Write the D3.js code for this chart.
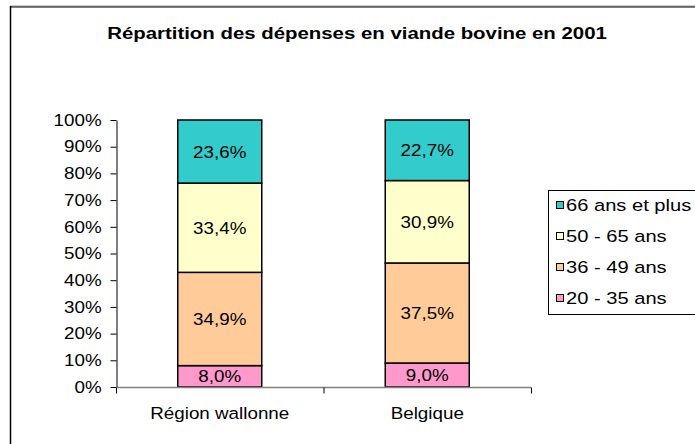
<!DOCTYPE html>
<html><head><meta charset="utf-8">
<script src="https://cdn.jsdelivr.net/npm/d3@7"></script>
<style>body{margin:0;background:#fff}svg{display:block;font-family:"Liberation Sans",Arial,sans-serif}</style>
</head><body>
<script>
const categories = ["Région wallonne", "Belgique"];
const seriesNames = ["20 - 35 ans", "36 - 49 ans", "50 - 65 ans", "66 ans et plus"];
const seriesColors = ["#FF99CC", "#FFCC99", "#FFFFCC", "#33CCCC"];
const v2035 = [8.0, 9.0];
const v3649 = [34.9, 37.5];
const v5065 = [33.4, 30.9];
const v66 = [23.6, 22.7];
const yTicks = [0,10,20,30,40,50,60,70,80,90,100];
const title = "Répartition des dépenses en viande bovine en 2001";

const W = 695, H = 444;
const FS = 16.5, SX = 1.14;
const svg = d3.select("body").append("svg").attr("width", W).attr("height", H);

function stext(g, x, y, str, anchor, size, sx, bold){
  const t = g.append("text").attr("transform",`translate(${x},${y}) scale(${sx||SX},1)`)
    .attr("text-anchor",anchor||"start").attr("font-size",size||FS).attr("fill","#000").text(str);
  if(bold) t.attr("font-weight","bold");
  return t;
}

// outer chart border
svg.append("line").attr("x1",10).attr("x2",W).attr("y1",6).attr("y2",6).attr("stroke","#999").attr("stroke-width",1);
svg.append("line").attr("x1",10).attr("x2",W).attr("y1",7).attr("y2",7).attr("stroke","#000").attr("stroke-width",1);
svg.append("line").attr("x1",10.5).attr("x2",10.5).attr("y1",6).attr("y2",H).attr("stroke","#000").attr("stroke-width",1.5);

stext(svg, 357, 39, title, "middle", 17, 1.2, true);

const plot = {l:116, r:531, t:120, b:387};
const x = d3.scaleBand().domain(categories).range([plot.l, plot.r]).paddingInner(0).paddingOuter(0);
const y = d3.scaleLinear().domain([0,100]).range([plot.b, plot.t]);

const rows = categories.map((c,i)=>{
  const vals = [v2035[i], v3649[i], v5065[i], v66[i]];
  const tot = d3.sum(vals);
  const o = {cat:c};
  seriesNames.forEach((s,j)=>{o[s]=vals[j]/tot*100; o["raw"+j]=vals[j];});
  return o;
});
const stacked = d3.stack().keys(seriesNames)(rows);

// y axis
const yAxis = d3.axisLeft(y).tickValues(yTicks).tickFormat(d=>d+"%").tickSize(6).tickSizeOuter(0);
const gy = svg.append("g").attr("transform",`translate(${plot.l+0.5},0)`).call(yAxis);
gy.select(".domain").attr("stroke","#000");
gy.selectAll(".tick line").attr("stroke","#000");
gy.selectAll(".tick text").attr("font-size",FS).attr("fill","#000").attr("x",-13)
  .attr("transform",`scale(${SX},1)`).attr("font-family","Liberation Sans, Arial, sans-serif");

// bars
const bw = 84;
stacked.forEach((layer,j)=>{
  svg.append("g").selectAll("rect").data(layer).join("rect")
    .attr("x", (d,i)=> x(categories[i]) + x.bandwidth()/2 - bw/2)
    .attr("y", d=> y(d[1]))
    .attr("width", bw)
    .attr("height", d=> y(d[0]) - y(d[1]))
    .attr("fill", seriesColors[j]).attr("stroke","#000").attr("stroke-width",1.5);
  const lg = svg.append("g");
  layer.forEach((d,i)=>{
    stext(lg, x(categories[i]) + x.bandwidth()/2, (y(d[0])+y(d[1]))/2 + 6,
      d.data["raw"+j].toFixed(1).replace(".",",")+"%", "middle");
  });
});

// x axis
const gx = svg.append("g").attr("transform",`translate(0,${plot.b+0.5})`);
gx.append("line").attr("x1",plot.l).attr("x2",plot.r).attr("stroke","#808080").attr("stroke-width",1.5);
const bounds = [plot.l, ...categories.map(c=>x(c)+x.bandwidth())];
gx.selectAll("line.t").data(bounds).join("line").attr("class","t")
  .attr("x1",d=>d+0.5).attr("x2",d=>d+0.5).attr("y1",0).attr("y2",6).attr("stroke","#000");
categories.forEach(c=> stext(gx, x(c)+x.bandwidth()/2, 31, c, "middle"));

// legend
const lg = svg.append("g");
lg.append("rect").attr("x",548.5).attr("y",190.5).attr("width",200).attr("height",124)
  .attr("fill","#fff").attr("stroke","#000").attr("stroke-width",1);
const legendOrder = [3,2,1,0];
legendOrder.forEach((j,k)=>{
  const cy = 205 + k*31;
  lg.append("rect").attr("x",556.5).attr("y",cy-3.5).attr("width",7).attr("height",7)
    .attr("fill",seriesColors[j]).attr("stroke","#000").attr("stroke-width",1);
  stext(lg, 566, cy+6, seriesNames[j], "start", FS, 1.22);
});
</script>
</body></html>
